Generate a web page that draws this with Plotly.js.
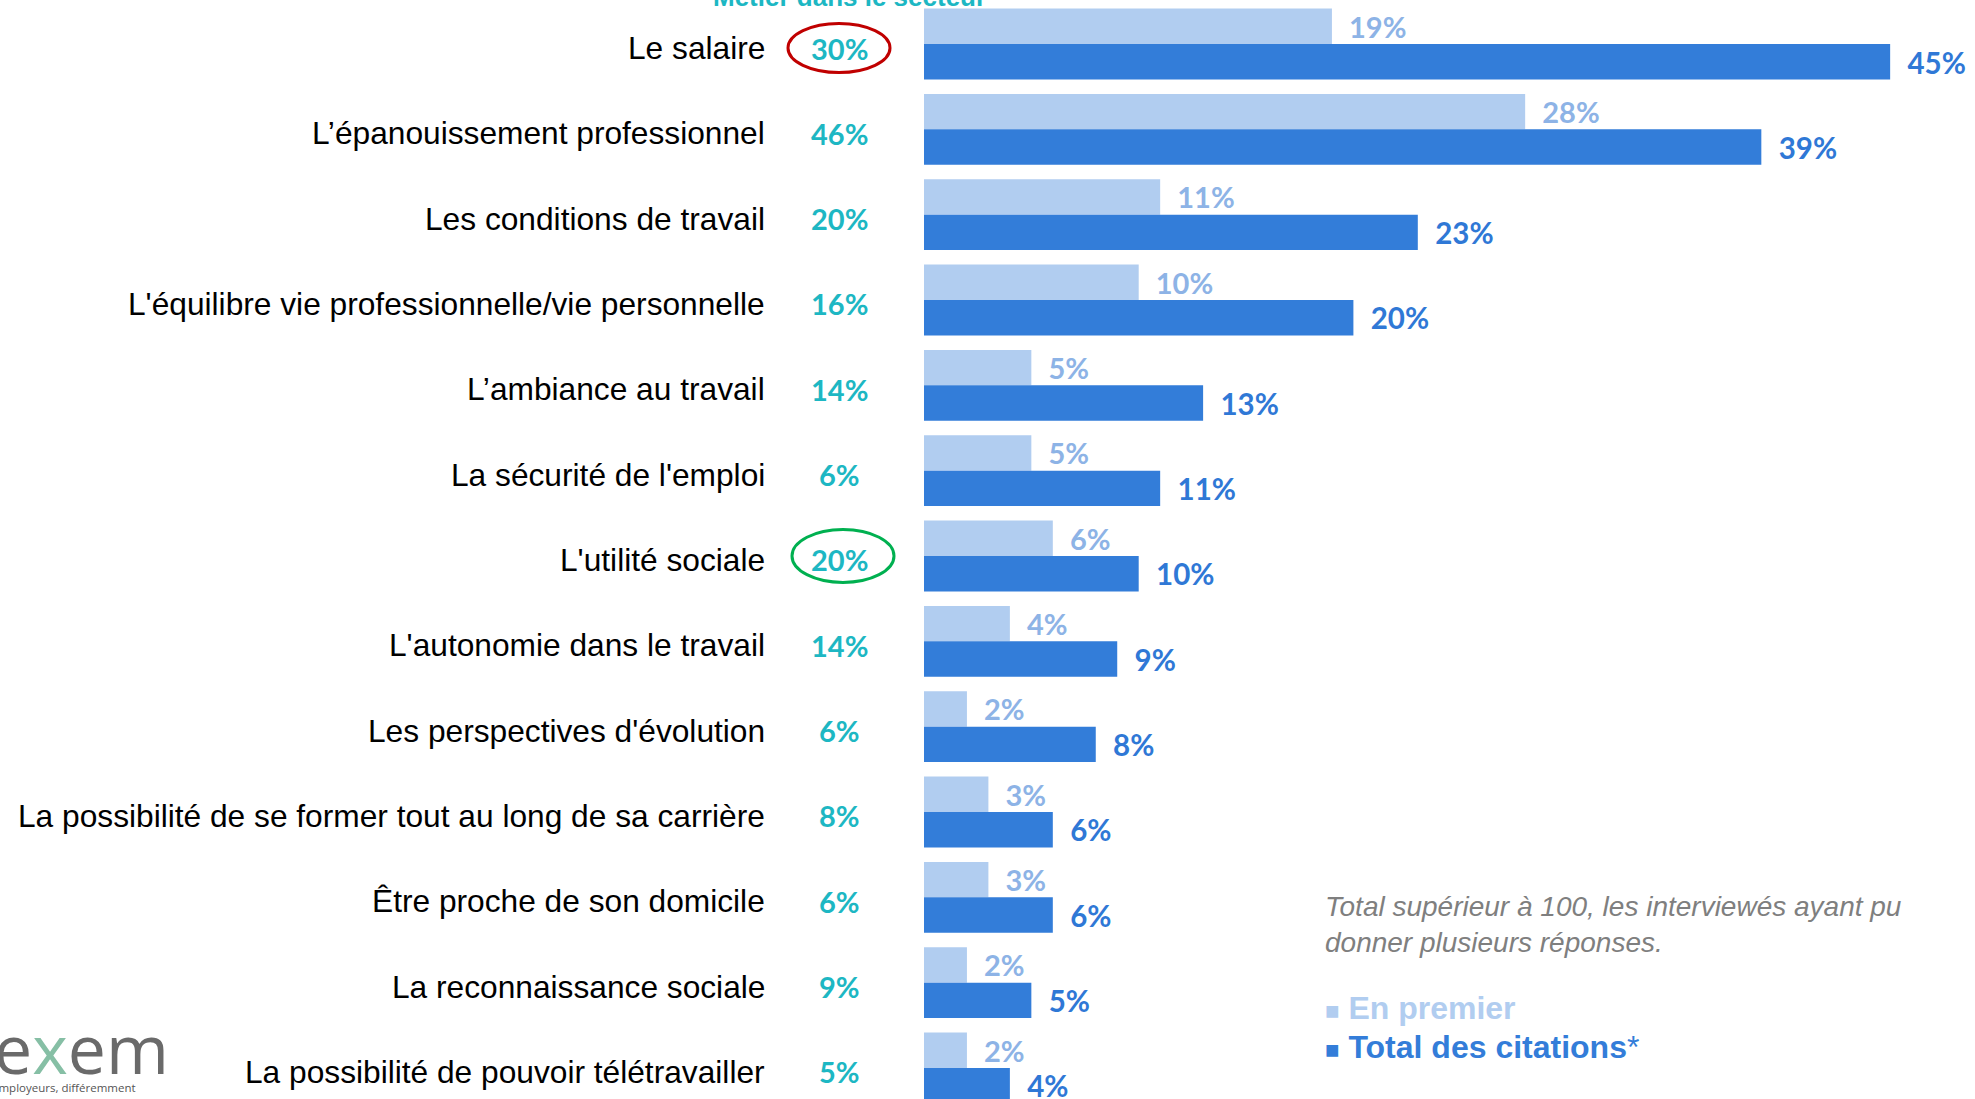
<!DOCTYPE html>
<html>
<head>
<meta charset="utf-8">
<script src="https://cdn.plot.ly/plotly-3.0.1.min.js"></script>
<style>html,body{margin:0;padding:0;background:#fff;overflow:hidden;}</style>
</head>
<body>
<div id="chart" style="width:1975px;height:1099px;"></div>
<script>
const categories = [
  "Le salaire",
  "L’épanouissement professionnel",
  "Les conditions de travail",
  "L'équilibre vie professionnelle/vie personnelle",
  "L’ambiance au travail",
  "La sécurité de l'emploi",
  "L'utilité sociale",
  "L'autonomie dans le travail",
  "Les perspectives d'évolution",
  "La possibilité de se former tout au long de sa carrière",
  "Être proche de son domicile",
  "La reconnaissance sociale",
  "La possibilité de pouvoir télétravailler"
];
const enPremier = [19, 28, 11, 10, 5, 5, 6, 4, 2, 3, 3, 2, 2];
const totalCitations = [45, 39, 23, 20, 13, 11, 10, 9, 8, 6, 6, 5, 4];
const metierSecteur = [30, 46, 20, 16, 14, 6, 20, 14, 6, 8, 6, 9, 5];
const circledRed = ["Le salaire"];
const circledGreen = ["L'utilité sociale"];

const W = 1975, H = 1099;
const plotLeft = 924;
const pxPerPct = 21.47;
const xMax = (W - plotLeft) / pxPerPct;
const rowPx = 85.33, row0 = 44;
const yTop = -row0 / rowPx;
const yBot = (categories.length - 1) + (H - (row0 + (categories.length - 1) * rowPx)) / rowPx;

const px2paperX = p => (p - plotLeft) / (W - plotLeft);
const px2paperY = p => 1 - p / H;

const lightBlue = "#B1CDF0", darkBlue = "#337DD9";
const teal = "#1DB7C3";
const nb = "\u00a0\u00a0";

const traces = [
  {
    type: "bar", orientation: "h", name: "En premier",
    y: categories, x: enPremier,
    marker: {color: lightBlue},
    text: enPremier.map(v => nb + v + "%"),
    textposition: "outside", cliponaxis: false,
    textfont: {family: "Lato, 'Open Sans', sans-serif", size: 29, color: "#8DB3E6", weight: 700},
    hoverinfo: "skip"
  },
  {
    type: "bar", orientation: "h", name: "Total des citations*",
    y: categories, x: totalCitations,
    marker: {color: darkBlue},
    text: totalCitations.map(v => nb + v + "%"),
    textposition: "outside", cliponaxis: false,
    textfont: {family: "Lato, 'Open Sans', sans-serif", size: 35, color: "#2F78D6", weight: 700},
    hoverinfo: "skip"
  }
];

const annotations = [];
categories.forEach((c, i) => {
  annotations.push({
    xref: "paper", yref: "y", x: px2paperX(767), y: c, yshift: -4,
    text: c, showarrow: false, xanchor: "right", yanchor: "middle",
    font: {family: "Liberation Sans, Arial, sans-serif", size: 31.7, color: "#000000"}
  });
  annotations.push({
    xref: "paper", yref: "y", x: px2paperX(839), y: c, yshift: -4,
    text: "<b>" + metierSecteur[i] + "%</b>", showarrow: false,
    xanchor: "center", yanchor: "middle",
    font: {family: "Lato, 'Open Sans', sans-serif", size: 29, color: teal}
  });
});
annotations.push({
  xref: "paper", yref: "paper", x: px2paperX(849), y: px2paperY(14),
  text: "<b>Métier dans le secteur</b>", showarrow: false,
  xanchor: "center", yanchor: "bottom",
  font: {family: "Liberation Sans, Arial, sans-serif", size: 26, color: teal}
});
annotations.push({
  xref: "paper", yref: "paper", x: px2paperX(1323), y: px2paperY(889),
  text: "<i>Total supérieur à 100, les interviewés ayant pu<br>donner plusieurs réponses.</i>",
  showarrow: false, xanchor: "left", yanchor: "top", align: "left",
  font: {family: "Liberation Sans, Arial, sans-serif", size: 28, color: "#7F7F7F"}
});
annotations.push({
  xref: "paper", yref: "paper", x: px2paperX(1323), y: px2paperY(1008),
  text: "<span style='font-size:24px'>■</span> <b>En premier</b>",
  showarrow: false, xanchor: "left", yanchor: "middle", align: "left",
  font: {family: "Liberation Sans, Arial, sans-serif", size: 32, color: lightBlue}
});
annotations.push({
  xref: "paper", yref: "paper", x: px2paperX(1323), y: px2paperY(1047),
  text: "<span style='font-size:24px'>■</span> <b>Total des citations</b>*",
  showarrow: false, xanchor: "left", yanchor: "middle", align: "left",
  font: {family: "Liberation Sans, Arial, sans-serif", size: 32, color: darkBlue}
});
annotations.push({
  xref: "paper", yref: "paper", x: px2paperX(-7), y: px2paperY(1047),
  text: "e<span style='color:#86BFA5'>x</span>em", showarrow: false,
  xanchor: "left", yanchor: "middle", borderpad: 0,
  font: {family: "'Open Sans', sans-serif", size: 68, color: "#6A6A6A"}
});
annotations.push({
  xref: "paper", yref: "paper", x: px2paperX(-9), y: px2paperY(1087),
  text: "employeurs, différemment", showarrow: false,
  xanchor: "left", yanchor: "middle", borderpad: 0,
  font: {family: "'Open Sans', sans-serif", size: 11.5, color: "#555555"}
});

const shapes = [];
circledRed.forEach(c => {
  const i = categories.indexOf(c);
  shapes.push({type: "circle", xref: "paper", yref: "y",
    x0: px2paperX(788), x1: px2paperX(890), y0: i - 0.24, y1: i + 0.335,
    line: {color: "#C00000", width: 3}});
});
circledGreen.forEach(c => {
  const i = categories.indexOf(c);
  shapes.push({type: "circle", xref: "paper", yref: "y",
    x0: px2paperX(792), x1: px2paperX(894), y0: i - 0.31, y1: i + 0.31,
    line: {color: "#00B050", width: 3}});
});

const layout = {
  width: W, height: H,
  margin: {l: plotLeft, r: 0, t: 0, b: 0, pad: 0},
  paper_bgcolor: "#ffffff", plot_bgcolor: "#ffffff",
  barmode: "group", bargap: 0.17, bargroupgap: 0,
  showlegend: false,
  xaxis: {range: [0, xMax], visible: false, fixedrange: true},
  yaxis: {
    type: "category", categoryorder: "array", categoryarray: categories,
    range: [yBot, yTop], showgrid: false, zeroline: false, showline: false,
    ticks: "", showticklabels: false, automargin: false
  },
  annotations: annotations,
  shapes: shapes
};

Plotly.newPlot("chart", traces, layout, {displayModeBar: false, staticPlot: true});
</script>
</body>
</html>
